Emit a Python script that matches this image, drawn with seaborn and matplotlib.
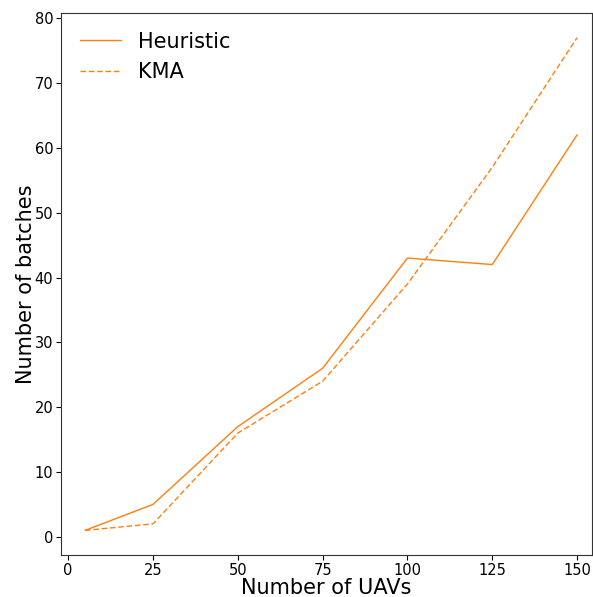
import matplotlib
matplotlib.use("Agg")
import matplotlib.pyplot as plt
import seaborn as sns
import pandas as pd

uavs = [5, 25, 50, 75, 100, 125, 150]
heuristic = [1, 5, 17, 26, 43, 42, 62]
kma = [1, 2, 16, 24, 39, 57, 77]

sns.set_style("white")
plt.rcParams['font.family'] = ['DejaVu Sans']
plt.rcParams['text.color'] = 'black'
plt.rcParams['axes.labelcolor'] = 'black'

df = pd.DataFrame({"x": uavs * 2,
                   "y": heuristic + kma,
                   "Method": ["Heuristic"] * len(uavs) + ["KMA"] * len(uavs)})

fig = plt.figure(figsize=(5.93, 5.97), dpi=100)
ax = fig.add_axes([61 / 593, 1 - 555 / 597, (592 - 61) / 593, (555 - 13) / 597])
sns.lineplot(data=df, x="x", y="y", style="Method", color="#ff7f0e",
             linewidth=1, ax=ax, dashes={"Heuristic": "", "KMA": (4, 2)})
ax.set_xlim(-2.1, 154.4)
ax.set_ylim(-2.8, 80.8)
ax.set_xticks([0, 25, 50, 75, 100, 125, 150])
ax.set_yticks([0, 10, 20, 30, 40, 50, 60, 70, 80])
ax.tick_params(axis="both", labelsize=10.5, length=3.5, width=0.8, direction="out",
               bottom=True, left=True, colors="black", pad=2)
ax.set_xlabel("Number of UAVs", fontsize=15, labelpad=0, color="black")
ax.set_ylabel("Number of batches", fontsize=15, labelpad=-1, color="black")
for s in ax.spines.values():
    s.set_color("#333333")
    s.set_linewidth(0.8)
leg = ax.legend(frameon=False, fontsize=15, loc="upper left", handlelength=2.0)
for t in leg.get_texts():
    t.set_color("black")
fig.savefig("out.png", dpi=100)
